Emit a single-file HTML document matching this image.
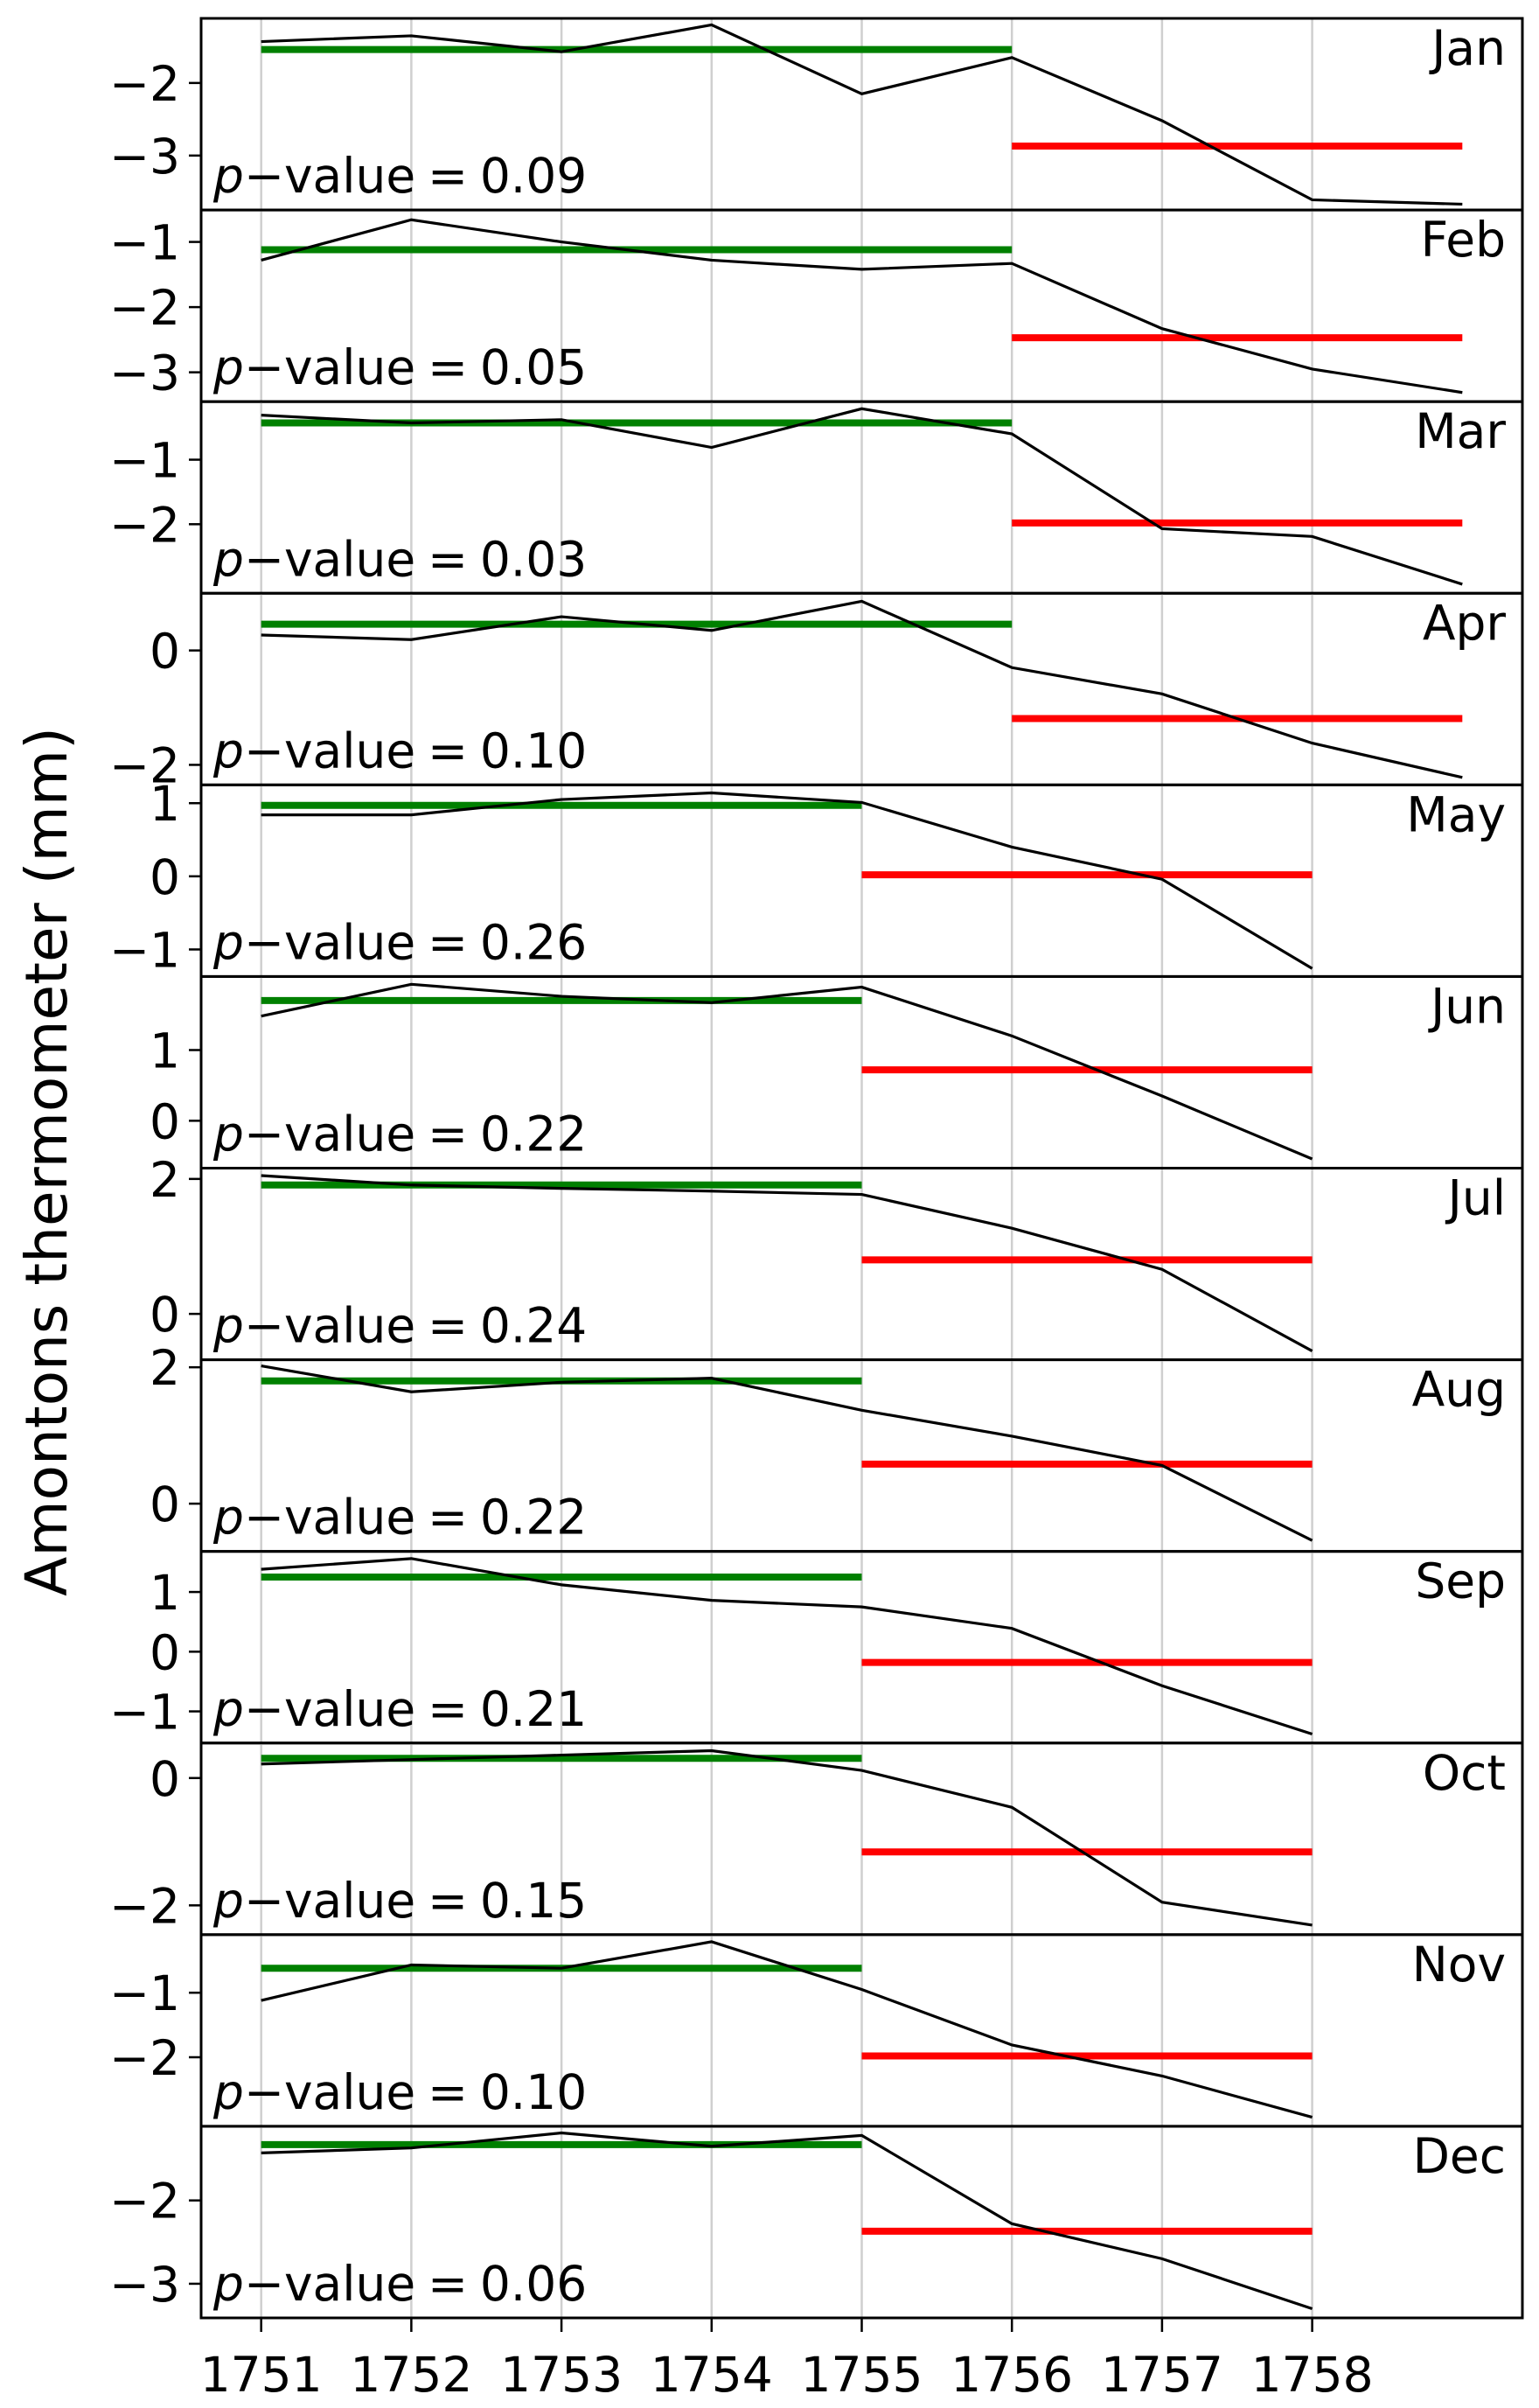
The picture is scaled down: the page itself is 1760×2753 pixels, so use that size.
<!DOCTYPE html>
<html><head><meta charset="utf-8"><style>
html,body{margin:0;padding:0;background:#fff}
svg{display:block}
text{font-family:"DejaVu Sans","Liberation Sans",sans-serif;fill:#000}
</style></head><body>
<svg id="chart" width="1760" height="2753" viewBox="0 0 1760 2753" xmlns="http://www.w3.org/2000/svg">
<text x="0" y="0" font-size="66" text-anchor="middle" transform="translate(76,1328) rotate(-90)">Amontons thermometer (mm)</text>
</svg>
<script>
const years = [1751,1752,1753,1754,1755,1756,1757,1758,1759];
const months = ["Jan","Feb","Mar","Apr","May","Jun","Jul","Aug","Sep","Oct","Nov","Dec"];
const pValues = ["0.09","0.05","0.03","0.10","0.26","0.22","0.24","0.22","0.21","0.15","0.10","0.06"];
const series = [
 [-1.43,-1.35,-1.57,-1.20,-2.15,-1.65,-2.52,-3.61,-3.67],
 [-1.28,-0.66,-1.00,-1.28,-1.42,-1.33,-2.33,-2.95,-3.31],
 [-0.31,-0.43,-0.38,-0.81,-0.21,-0.60,-2.07,-2.19,-2.93],
 [0.27,0.19,0.59,0.35,0.86,-0.30,-0.76,-1.62,-2.22],
 [0.84,0.84,1.05,1.14,1.01,0.40,-0.04,-1.26],
 [1.48,1.93,1.76,1.67,1.89,1.20,0.35,-0.54],
 [2.05,1.91,1.86,1.82,1.77,1.27,0.66,-0.55],
 [2.02,1.64,1.78,1.84,1.37,0.99,0.56,-0.54],
 [1.38,1.56,1.12,0.86,0.75,0.39,-0.57,-1.38],
 [0.22,0.29,0.36,0.43,0.12,-0.46,-1.95,-2.31],
 [-1.12,-0.57,-0.62,-0.21,-0.95,-1.81,-2.29,-2.93],
 [-1.43,-1.37,-1.19,-1.35,-1.22,-2.28,-2.70,-3.30]
];
const beforeMeans = [-1.54,-1.12,-0.43,0.46,0.97,1.70,1.91,1.80,1.25,0.31,-0.62,-1.33];
const afterMeans = [-2.87,-2.47,-1.98,-1.19,0.02,0.72,0.80,0.58,-0.18,-1.16,-1.98,-2.37];
const yMax = [-1.11,-0.51,-0.10,1.00,1.25,2.04,2.16,2.11,1.68,0.55,-0.10,-1.11];
const yMin = [-3.75,-3.45,-3.07,-2.35,-1.37,-0.67,-0.68,-0.70,-1.53,-2.46,-3.07,-3.41];
const yTicks = [[-2,-3],[-1,-2,-3],[-1,-2],[0,-2],[1,0,-1],[1,0],[2,0],[2,0],[1,0,-1],[0,-2],[-1,-2],[-2,-3]];
const xTicks = [1751,1752,1753,1754,1755,1756,1757,1758];

const svg = document.getElementById('chart');
const NS = 'http://www.w3.org/2000/svg';
const L = 230, R = 1741, TOP = 21, BOT = 2650;
const PH = (BOT - TOP) / 12;
const X0 = 1750.6, X1 = 1759.4;
const xs = v => L + (v - X0) / (X1 - X0) * (R - L);
function mk(tag, attrs, parent) {
  const e = document.createElementNS(NS, tag);
  for (const k in attrs) e.setAttribute(k, attrs[k]);
  (parent || svg).appendChild(e);
  return e;
}
months.forEach((m, i) => {
  const top = TOP + i * PH, bot = top + PH;
  const ys = v => top + (yMax[i] - v) / (yMax[i] - yMin[i]) * PH;
  const g = mk('g', {});
  
  
  xTicks.forEach(t => {
    const gl = mk('line', {x1: xs(t), x2: xs(t), y1: top, y2: bot, stroke: '#cfcfcf', 'stroke-width': 2.5}, g);
    
    
  });
  const n = series[i].length;
  const pts = series[i].map((v, j) => xs(years[j]) + ',' + ys(v)).join(' ');
  const split = n === 9 ? 1756 : 1755;
  const last = years[n - 1];
  const gm = mk('line', {x1: xs(1751), x2: xs(split), y1: ys(beforeMeans[i]), y2: ys(beforeMeans[i]), stroke: '#008000', 'stroke-width': 8}, g);
  
  
  const rm = mk('line', {x1: xs(split), x2: xs(last), y1: ys(afterMeans[i]), y2: ys(afterMeans[i]), stroke: '#ff0000', 'stroke-width': 8}, g);
  
  
  const pl = mk('polyline', {points: pts, fill: 'none', stroke: '#000', 'stroke-width': 3.2}, g);
  
  
  yTicks[i].forEach(t => {
    const y = ys(t);
    const tk = mk('line', {x1: L - 14, x2: L, y1: y, y2: y, stroke: '#000', 'stroke-width': 2.5}, g);
    
    
    const tl = mk('text', {x: L - 24, y: y + 20, 'font-size': 55, 'text-anchor': 'end'}, g);
    
    
    tl.textContent = (t < 0 ? '\u2212' : '') + Math.abs(t);
  });
  const pv = mk('text', {x: 244, y: bot - 20, 'font-size': 55, 'xml:space': 'preserve'}, g);
  
  
  pv.innerHTML = '<tspan font-style="italic">p</tspan>\u2212value\u2005=\u20050.' + pValues[i].slice(2);
  const ml = mk('text', {x: 1722, y: top + 53, 'font-size': 55, 'text-anchor': 'end'}, g);
  
  
  ml.textContent = m;
  const fr = mk('rect', {x: L, y: top, width: R - L, height: PH, fill: 'none', stroke: '#000', 'stroke-width': 3}, g);
  
  
});
xTicks.forEach(t => {
  const tk = mk('line', {x1: xs(t), x2: xs(t), y1: BOT, y2: BOT + 16, stroke: '#000', 'stroke-width': 2.5});
  
  
  const tl = mk('text', {x: xs(t), y: BOT + 84, 'font-size': 55, 'text-anchor': 'middle'});
  
  
  tl.textContent = t;
});
</script>
</body></html>
